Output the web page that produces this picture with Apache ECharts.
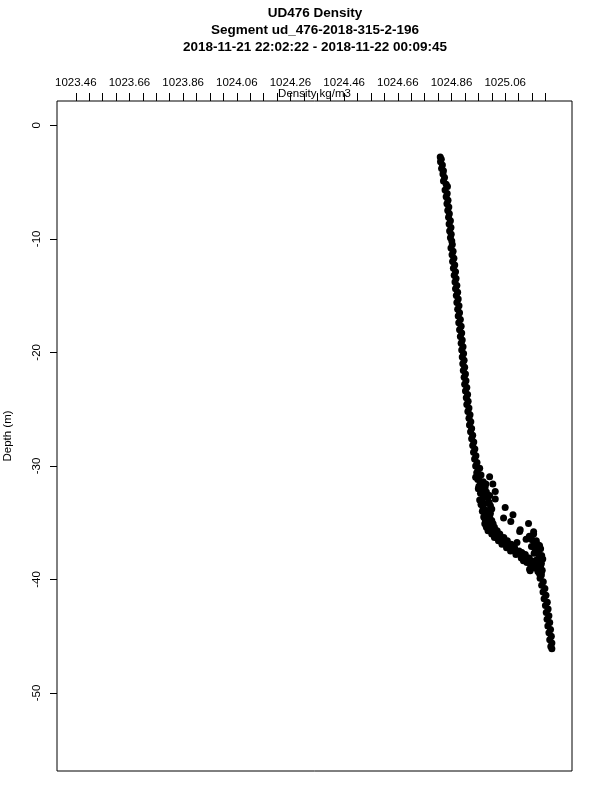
<!DOCTYPE html>
<html>
<head>
<meta charset="utf-8">
<script src="https://cdn.jsdelivr.net/npm/echarts@6/dist/echarts.min.js"></script>
<style>html,body{margin:0;padding:0;background:#fff}#c{width:600px;height:800px}</style>
</head>
<body>
<div id="c"></div>
<script>
// ---- tick labels ----
const xLabelValues = [1023.46, 1023.66, 1023.86, 1024.06, 1024.26, 1024.46, 1024.66, 1024.86, 1025.06];
const xTickValues = [1023.46, 1023.51, 1023.56, 1023.61, 1023.66, 1023.71, 1023.76, 1023.81, 1023.86, 1023.91,
  1023.96, 1024.01, 1024.06, 1024.11, 1024.16, 1024.21, 1024.26, 1024.31, 1024.36, 1024.41,
  1024.46, 1024.51, 1024.56, 1024.61, 1024.66, 1024.71, 1024.76, 1024.81, 1024.86, 1024.91,
  1024.96, 1025.01, 1025.06, 1025.11, 1025.16, 1025.21];
const yLabelValues = [-50, -40, -30, -20, -10, 0];
const yTickValues = [-50, -40, -30, -20, -10, 0];

// ---- data: depth (m) and density (kg/m3) ----
const depthUpper = [-2.8,-3.0,-3.2,-3.5,-3.8,-4.0,-4.3,-4.6,-4.9,-5.2,-5.4,-5.7,-6.0,-6.3,-6.6,-6.9,-7.2,-7.5,-7.8,-8.1,-8.4,-8.7,-9.0,-9.3,-9.6,-9.9,-10.2];
const densityUpper = [1024.818,1024.822,1024.819,1024.826,1024.823,1024.830,1024.828,1024.834,1024.830,1024.840,1024.845,1024.836,1024.844,1024.840,1024.847,1024.843,1024.850,1024.846,1024.852,1024.849,1024.856,1024.851,1024.858,1024.853,1024.859,1024.856,1024.861];

const depthMid = [-10.5,-10.8,-11.1,-11.4,-11.7,-12.0,-12.3,-12.6,-12.9,-13.2,-13.5,-13.8,-14.1,-14.4,-14.7,-15.0,-15.3,-15.6,-15.9,-16.2,-16.5,-16.8,-17.1,-17.4,-17.7,-18.0,-18.3,-18.6,-18.9,-19.2,-19.5,-19.8,-20.1,-20.4,-20.7,-21.0,-21.3,-21.6,-21.9,-22.2,-22.5,-22.8,-23.1,-23.4,-23.7,-24.0,-24.3,-24.6,-24.9,-25.2,-25.5,-25.8,-26.1,-26.4,-26.7];
const densityMid = [1024.863,1024.858,1024.866,1024.862,1024.869,1024.864,1024.872,1024.867,1024.875,1024.870,1024.877,1024.873,1024.880,1024.875,1024.883,1024.878,1024.885,1024.880,1024.888,1024.883,1024.890,1024.885,1024.893,1024.887,1024.896,1024.890,1024.898,1024.893,1024.900,1024.896,1024.903,1024.898,1024.905,1024.900,1024.907,1024.902,1024.909,1024.904,1024.912,1024.907,1024.914,1024.909,1024.917,1024.912,1024.920,1024.915,1024.922,1024.917,1024.925,1024.921,1024.929,1024.925,1024.932,1024.927,1024.935];

const depthLowerMid = [-27.0,-27.3,-27.6,-27.9,-28.2,-28.5,-28.8,-29.1,-29.4,-29.7,-30.0,-30.3,-30.6,-30.9,-31.2,-31.5,-31.8,-32.1,-32.4,-32.7,-33.0,-33.3,-33.6,-33.9,
  -30.2,-30.8,-31.4,-31.9,-32.3,-32.8,-33.2,-33.5,-33.8,-31.0,-32.0,-33.0,-31.6,-32.6,-33.4,-34.0];
const densityLowerMid = [1024.931,1024.939,1024.935,1024.943,1024.939,1024.947,1024.942,1024.951,1024.946,1024.955,1024.950,1024.959,1024.954,1024.963,1024.958,1024.968,1024.962,1024.973,1024.968,1024.978,1024.972,1024.983,1024.977,1024.988,
  1024.965,1024.970,1024.978,1024.985,1024.990,1024.995,1025.000,1025.005,1025.010,1024.950,1024.960,1024.965,1024.988,1025.002,1024.970,1024.975];

const depthBend = [-34.2,-34.2,-34.2,-34.5,-34.5,-34.5,-34.8,-34.8,-34.8,-35.1,-35.1,-35.1,-35.4,-35.4,-35.4,-35.7,-35.7,-35.7,-36.0,-36.0,-36.0,-36.3,-36.3,-36.3,-36.6,-36.6,-36.6,-36.9,-36.9,-36.9,-37.2,-37.2,-37.2,-37.5,-37.5,-37.5,-37.8,-37.8,-37.8,-38.1,-38.1,-38.1,-38.4,-38.4,-38.4,-38.7,-38.7,-38.7,-39.0,-39.0,-39.0];
const densityBend = [1024.985,1024.995,1025.005,1024.980,1024.992,1025.002,1024.986,1024.998,1025.010,1024.984,1025.000,1025.015,1024.990,1025.005,1025.020,1024.996,1025.012,1025.030,1025.010,1025.025,1025.040,1025.020,1025.035,1025.055,1025.035,1025.050,1025.068,1025.048,1025.065,1025.082,1025.065,1025.080,1025.095,1025.080,1025.098,1025.112,1025.100,1025.118,1025.135,1025.120,1025.138,1025.150,1025.140,1025.155,1025.168,1025.155,1025.168,1025.178,1025.168,1025.178,1025.188];

const depthScatter = [-30.95,-31.60,-32.25,-32.92,-33.66,-34.30,-34.59,-34.89,-35.07,-35.80,-35.78,-36.45,-36.75,-37.48,-37.63,-38.51,-39.24,-36.00,-37.33,-37.77,-38.36,-39.09,-35.63,
  -36.2,-36.5,-36.8,-37.1,-37.4,-37.7,-38.0,-38.3,-38.6,-38.9,-39.2,-39.5,-37.0,-36.6,
  -36.9,-37.3,-37.9,-38.2,-38.8,-39.4,-38.5,-37.6];
const densityScatter = [1025.002,1025.014,1025.023,1025.023,1025.060,1025.089,1025.054,1025.081,1025.147,1025.166,1025.114,1025.138,1025.104,1025.097,1025.122,1025.141,1025.153,1025.166,1025.172,1025.184,1025.128,1025.151,1025.116,
  1025.150,1025.160,1025.170,1025.158,1025.180,1025.168,1025.190,1025.176,1025.195,1025.182,1025.198,1025.188,1025.188,1025.176,
  1025.180,1025.192,1025.196,1025.200,1025.192,1025.194,1025.184,1025.178];

const depthBottom = [-39.3,-39.6,-39.9,-40.2,-40.5,-40.8,-41.1,-41.4,-41.7,-42.0,-42.3,-42.6,-42.9,-43.2,-43.5,-43.8,-44.1,-44.4,-44.7,-45.0,-45.3,-45.6,-45.9,-46.1];
const densityBottom = [1025.182,1025.195,1025.190,1025.202,1025.196,1025.208,1025.201,1025.212,1025.205,1025.217,1025.210,1025.220,1025.213,1025.223,1025.216,1025.226,1025.219,1025.229,1025.223,1025.232,1025.226,1025.234,1025.230,1025.234];

const depth = [].concat(depthUpper, depthMid, depthLowerMid, depthBend, depthScatter, depthBottom);
const density = [].concat(densityUpper, densityMid, densityLowerMid, densityBend, densityScatter, densityBottom);
const points = density.map((d, i) => [d, depth[i]]);

const FONT = 'Liberation Sans';
const chart = echarts.init(document.getElementById('c'), null, {renderer: 'canvas'});
chart.setOption({
  animation: false,
  backgroundColor: '#ffffff',
  title: {
    text: 'UD476 Density\nSegment ud_476-2018-315-2-196\n2018-11-21 22:02:22 - 2018-11-22 00:09:45',
    left: 310, top: 0, textAlign: 'center',
    textStyle: {fontFamily: FONT, fontWeight: 'bold', fontSize: 13.5, lineHeight: 17, color: '#000'}
  },
  graphic: [{
    type: 'text', x: 8, y: 436, rotation: Math.PI / 2, silent: true,
    style: {text: 'Depth (m)', align: 'center', verticalAlign: 'middle', fontFamily: FONT, fontSize: 11.5, fill: '#000'}
  }],
  grid: {left: 57, right: 28, top: 101, bottom: 29, show: true, borderColor: '#000', borderWidth: 1,
    outerBoundsMode: 'none'},
  xAxis: {
    type: 'value', position: 'top', min: 1023.39, max: 1025.309,
    name: 'Density kg/m3', nameLocation: 'middle', nameGap: 1, nameMoveOverlap: false,
    nameTextStyle: {fontFamily: FONT, fontSize: 11.5, color: '#000'},
    axisLine: {show: false, onZero: false},
    axisTick: {show: true, length: 8, customValues: xTickValues, lineStyle: {color: '#000'}},
    axisLabel: {customValues: xLabelValues, margin: 12, fontFamily: FONT, fontSize: 11.5, color: '#000',
      formatter: v => v.toFixed(2)},
    splitLine: {show: false}
  },
  yAxis: {
    type: 'value', position: 'left', min: -56.87, max: 2.14,
    axisLine: {show: false, onZero: false},
    axisTick: {show: true, length: 7, customValues: yTickValues, lineStyle: {color: '#000'}},
    axisLabel: {customValues: yLabelValues, rotate: 90, margin: 14, fontFamily: FONT, fontSize: 11.5, color: '#000'},
    splitLine: {show: false}
  },
  series: [{
    type: 'scatter', data: points, symbol: 'circle', symbolSize: 7,
    itemStyle: {color: '#000', opacity: 1}, silent: true
  }]
});
</script>
</body>
</html>
